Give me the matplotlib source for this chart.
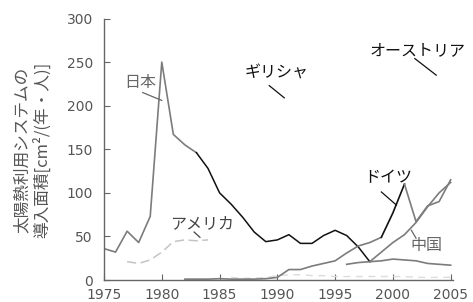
import matplotlib
matplotlib.use("Agg")
import matplotlib.pyplot as plt
import numpy as np

plt.rcParams['font.family'] = ['Noto Sans CJK JP', 'DejaVu Sans']

# ---- data ----
years_japan = list(range(1975, 2006))
japan = [36, 32, 56, 43, 73, 250, 167, 155, 146, 128, 100, 87, 72, 55, 44,
         46, 52, 42, 42, 51, 57, 51, 38, 21, 22, 24, 23, 22, 19, 18, 17]

years_germany = list(range(1982, 2006))
germany = [1, 1, 1, 1.5, 1, 1, 1, 1.5, 3, 12, 12, 16, 19, 22, 31, 39, 43, 49,
           77, 110, 67, 85, 90, 115]

years_china = list(range(1996, 2006))
china = [18, 20, 21, 32, 43, 52, 66, 84, 100, 112]

years_usa_early = list(range(1977, 1985))
usa_early = [21, 19, 23, 32, 44, 46, 45, 46]
years_usa_late = list(range(1986, 2006))
usa_late = [3, 2, 2, 3, 5, 6, 6, 5, 5, 4, 4, 4, 4, 4, 4, 4, 3, 3, 3, 3]

labels = ['日本', 'アメリカ', 'ギリシャ', 'オーストリア', 'ドイツ', '中国']

xticks = [1975, 1980, 1985, 1990, 1995, 2000, 2005]
yticks = [0, 50, 100, 150, 200, 250, 300]

GRAY = '#7c7c7c'
BLACK = '#111111'
LIGHT = '#c4c4c4'

fig = plt.figure(figsize=(4.73, 3.02), dpi=100)
ax = fig.add_axes([104/473, 1-280/302, 349/473, 261.5/302])

# USA (faint)
ax.plot(years_usa_early, usa_early, color=LIGHT, lw=1.1, ls=(0, (6, 3)))
ax.plot(years_usa_late, usa_late, color='#dcdcdc', lw=1.0, ls=(0, (5, 4)))

# Japan: gray early part, black middle part, gray tail
ax.plot(years_japan[:9], japan[:9], color=GRAY, lw=1.2)
ax.plot(years_japan[8:24], japan[8:24], color=BLACK, lw=1.1)
ax.plot(years_japan[23:], japan[23:], color=GRAY, lw=1.2)

# Germany
ax.plot(years_germany[:18], germany[:18], color=GRAY, lw=1.2)
ax.plot(years_germany[17:20], germany[17:20], color=BLACK, lw=1.2)
ax.plot(years_germany[19:], germany[19:], color=GRAY, lw=1.2)

# China
ax.plot(years_china, china, color=GRAY, lw=1.2)

ax.set_xlim(1975, 2005.2)
ax.set_ylim(0, 300)
ax.set_xticks(xticks)
ax.set_yticks(yticks)
ax.spines['top'].set_visible(False)
ax.spines['right'].set_visible(False)
for s in ['left', 'bottom']:
    ax.spines[s].set_color('#666666')
    ax.spines[s].set_linewidth(1.0)
ax.tick_params(direction='in', length=4, color='#666666', labelcolor='#555555',
               labelsize=10)
ax.tick_params(axis='y', pad=8)
ax.tick_params(axis='x', pad=6)
for lab in ax.get_xticklabels() + ax.get_yticklabels():
    lab.set_family('DejaVu Sans')
ax.patch.set_alpha(0)

# annotations with leader lines
ann = [
    (labels[0], (1978.1, 227), (1978.35, 215), (1980.0, 206), '#666666'),
    (labels[1], (1983.5, 65), (1982.8, 55), (1983.3, 49), '#444444'),
    (labels[2], (1989.9, 237), (1989.3, 223), (1990.6, 209), BLACK),
    (labels[3], (2002.1, 263), (2001.9, 254), (2003.75, 235), BLACK),
    (labels[4], (1999.6, 117), (1999.0, 101), (2000.3, 86), BLACK),
    (labels[5], (2002.9, 40), (2001.6, 57), (2002.0, 48), '#666666'),
]
for txt, tpos, p0, p1, col in ann:
    ax.text(tpos[0], tpos[1], txt, ha='center', va='center', fontsize=11.5,
            color=col, clip_on=False)
    ax.plot([p0[0], p1[0]], [p0[1], p1[1]], color=col, lw=0.9, clip_on=False)

fig.text(22/473, 1-150/302, '太陽熱利用システムの', rotation=90,
         ha='center', va='center', fontsize=12, color='#555555')
fig.text(42/473, 1-150/302, '導入面積[cm²/(年・人)]', rotation=90,
         ha='center', va='center', fontsize=12, color='#555555')

fig.savefig('out.png', dpi=100)
